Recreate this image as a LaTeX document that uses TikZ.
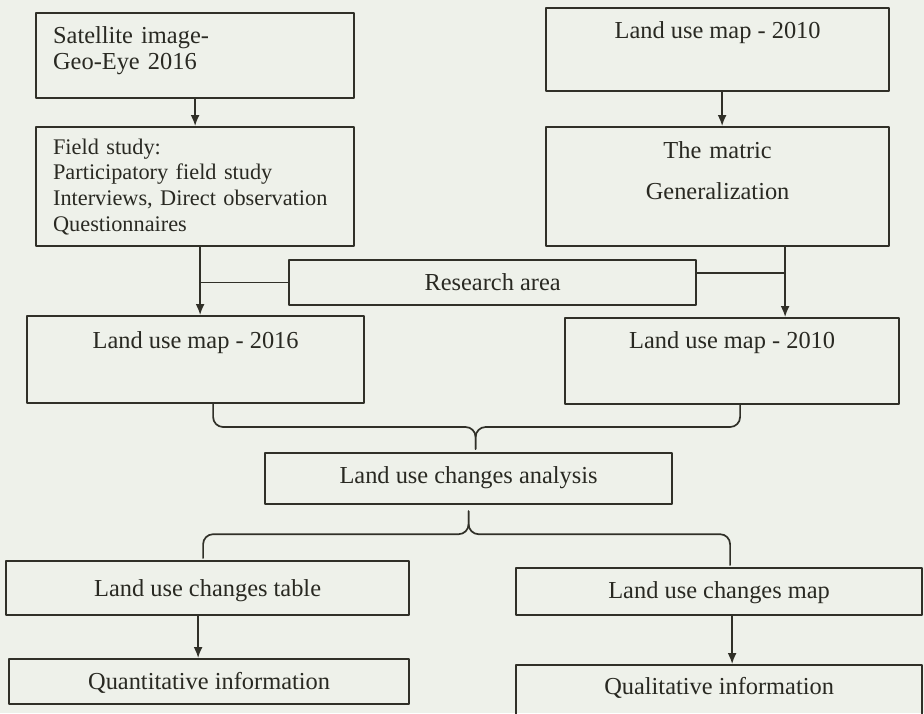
\documentclass[tikz,border=0pt]{standalone}
\usepackage{fontspec}
\setmainfont{Liberation Serif}
\usetikzlibrary{arrows.meta}
\definecolor{ink}{RGB}{48,48,40}
\definecolor{paper}{RGB}{238,241,234}
\tikzset{
  box/.style={draw=ink,line width=2.2pt,inner sep=0pt,anchor=north west,text=ink!85!black},
  lnk/.style={draw=ink,line width=1.7pt}
}
\begin{document}
\begin{tikzpicture}[x=1pt,y=-1pt,line cap=round,line join=round,>={Latex[length=11pt,width=9pt]},font=\fontsize{24.4}{26}\selectfont]
\path[use as bounding box,fill=paper] (0,0) rectangle (924,713);
% top boxes
\node[box,minimum width=318pt,minimum height=85pt,text width=284pt,align=left,text height=30pt,text depth=55pt] (sat) at (35,12) {Satellite image-\\Geo-Eye 2016};
\node[box,minimum width=318pt,minimum height=119pt,text width=284pt,align=left,text height=27pt,text depth=92pt,font=\fontsize{22.3}{25.7}\selectfont] (field) at (35,126) {Field study:\\Participatory field study\\Interviews, Direct observation\\Questionnaires};
\node[box,minimum width=343pt,minimum height=83pt,text height=30pt,text depth=53pt] (maptop) at (545,7) {Land use map - 2010};
\node[box,minimum width=343pt,minimum height=119pt,text width=300pt,align=center,text height=31pt,text depth=88pt] (matric) at (545,126) {The matric\\[15pt]Generalization};
% middle
\node[box,minimum width=407pt,minimum height=45pt,text height=30pt,text depth=15pt] (area) at (288,259) {Research area};
\node[box,minimum width=337pt,minimum height=87pt,text height=32pt,text depth=55pt] (map16) at (26,315) {Land use map - 2016};
\node[box,minimum width=334pt,minimum height=86pt,text height=30pt,text depth=56pt] (map10) at (564,317) {Land use map - 2010};
\node[box,minimum width=407pt,minimum height=51pt,text height=30pt,text depth=21pt] (anal) at (264,452) {Land use changes analysis};
% bottom
\node[box,minimum width=403pt,minimum height=54pt,text height=35pt,text depth=19pt] (table) at (5,560) {Land use changes table};
\node[box,minimum width=400pt,minimum height=45pt,text height=30pt,text depth=15pt] (quant) at (8,658) {Quantitative information};
\node[box,minimum width=406pt,minimum height=47pt,text height=30pt,text depth=17pt] (chmap) at (515,567) {Land use changes map};
\node[box,minimum width=406pt,minimum height=60pt,text height=29pt,text depth=31pt] (qual) at (515,664) {Qualitative information};

\draw[lnk,->] (sat) -- (field);
\draw[lnk,->] ([xshift=4.5pt]maptop.south) -- ([xshift=4.5pt]matric.north);
\coordinate (jl) at ([xshift=5pt]field.south);
\coordinate (jr) at ([xshift=67.5pt]matric.south);
\draw[lnk,->] (jl) -- (jl |- map16.north);
\draw[lnk,->] (jr) -- (jr |- map10.north);
\draw[lnk] (area.west) -- (area.west -| jl);
\coordinate (ae) at ([yshift=9.5pt]area.east);
\draw[lnk] (ae) -- (ae -| jr);

% braces
\coordinate (b1l) at ([xshift=17.5pt]map16.south);
\coordinate (b1r) at ([xshift=8pt]map10.south);
\coordinate (b1t) at ([xshift=7pt,yshift=3pt]anal.north);
\coordinate (b1m) at ([yshift=22pt]b1t);
\draw[lnk,rounded corners=10pt] (b1l) |- (b1m) -- (b1t);
\draw[lnk,rounded corners=10pt] (b1r) |- (b1m) -- (b1t);
\coordinate (b2t) at ([yshift=-6pt]anal.south);
\coordinate (b2m) at ([yshift=-23pt]b2t);
\coordinate (b2l) at ([xshift=-4.5pt,yshift=2pt]table.north);
\coordinate (b2r) at ([xshift=11pt,yshift=2pt]chmap.north);
\draw[lnk,rounded corners=10pt] (b2l) |- (b2m) -- (b2t);
\draw[lnk,rounded corners=10pt] (b2r) |- (b2m) -- (b2t);

\coordinate (t1) at ([xshift=-9.5pt]table.south);
\coordinate (t2) at ([xshift=13pt]chmap.south);
\draw[lnk,->] (t1) -- (t1 |- quant.north);
\draw[lnk,->] (t2) -- (t2 |- qual.north);
\end{tikzpicture}
\end{document}
